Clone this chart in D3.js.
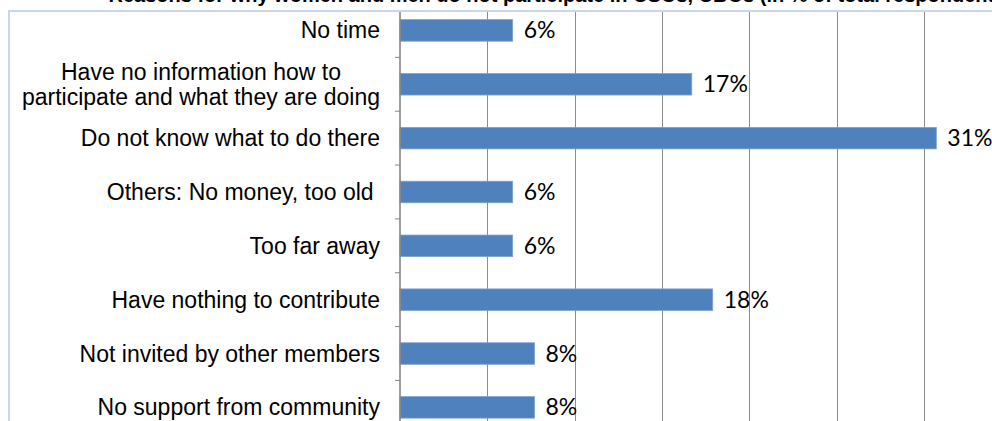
<!DOCTYPE html>
<html>
<head>
<meta charset="utf-8">
<script src="https://cdn.jsdelivr.net/npm/d3@7"></script>
<style>
  html, body { margin: 0; padding: 0; background: #fff; overflow: hidden; }
  svg { display: block; }
  text { white-space: pre; }
</style>
</head>
<body>
<svg id="chart" width="992" height="421"></svg>
<script>
// ---- data ----
const categories = [
  "No time",
  "Have no information how to|participate and what they are doing",
  "Do not know what to do there",
  "Others: No money, too old ",
  "Too far away",
  "Have nothing to contribute",
  "Not invited by other members",
  "No support from community"
];
const values = [6.45, 16.7, 30.7, 6.45, 6.45, 17.9, 7.7, 7.7];
const xTicks = [0, 5, 10, 15, 20, 25, 30, 35];
const title = "Reasons for why women and men do not participate in CSOs, CBOs (in % of total respondents)";

// ---- layout ----
const W = 992, H = 421;
const svg = d3.select("#chart");
const axisX = 400, xMaxPx = 400 + 35 * 17.47;
const x = d3.scaleLinear().domain([0, 35]).range([axisX, xMaxPx]);
const y = d3.scaleBand().domain(categories).range([3.5, 3.5 + 8 * 53.85])
  .paddingInner(0.6).paddingOuter(0.3);

// title (cropped at the top edge, as in the reference)
const t = svg.append("text")
  .attr("y", 1.5)
  .attr("font-family", "Liberation Sans, Arial, sans-serif")
  .attr("font-weight", "bold")
  .attr("font-size", 20)
  .attr("fill", "#000")
  .text(title);
const pIdx = title.indexOf("participate");
const off = t.node().getSubStringLength(0, pIdx);
t.attr("x", 503 - off);

// frame
svg.append("rect")
  .attr("x", 9).attr("y", 11)
  .attr("width", W + 20).attr("height", H + 20)
  .attr("fill", "#fff")
  .attr("stroke", "#c9d7ea").attr("stroke-width", 2);

svg.append("clipPath").attr("id", "clip")
  .append("rect").attr("x", 10).attr("y", 12).attr("width", W).attr("height", H);

const g = svg.append("g").attr("clip-path", "url(#clip)");

// gridlines
g.selectAll("line.grid").data(xTicks.filter(d => d > 0)).join("line")
  .attr("class", "grid")
  .attr("x1", d => Math.round(x(d)) + 0.5).attr("x2", d => Math.round(x(d)) + 0.5)
  .attr("y1", 0).attr("y2", H)
  .attr("stroke", "#8c8c8c").attr("stroke-width", 1);

// bars
g.selectAll("rect.bar").data(categories).join("rect")
  .attr("class", "bar")
  .attr("x", x(0))
  .attr("y", d => y(d))
  .attr("width", (d, i) => x(values[i]) - x(0))
  .attr("height", y.bandwidth())
  .attr("fill", "#4f81bd")
  .attr("stroke", "#7ea2d0").attr("stroke-width", 0.8);

// axis line + ticks
const step = y.step();
const boundaries = categories.map(c => y(c) - (step - y.bandwidth()) / 2);
boundaries.push(boundaries[boundaries.length - 1] + step);
g.append("line")
  .attr("x1", axisX).attr("x2", axisX).attr("y1", 0).attr("y2", H)
  .attr("stroke", "#868686").attr("stroke-width", 1.6);
g.selectAll("line.tick").data(boundaries).join("line")
  .attr("class", "tick")
  .attr("x1", axisX - 5).attr("x2", axisX)
  .attr("y1", d => d).attr("y2", d => d)
  .attr("stroke", "#868686").attr("stroke-width", 1);

// value labels
g.selectAll("text.val").data(categories).join("text")
  .attr("class", "val")
  .attr("x", (d, i) => x(values[i]) + 11)
  .attr("y", d => y(d) + y.bandwidth() / 2)
  .attr("dy", "0.35em")
  .attr("font-family", "Lato, sans-serif")
  .attr("font-size", 23)
  .attr("fill", "#000")
  .text((d, i) => Math.round(values[i]) + "%");

// category labels
const labelRight = 380;
categories.forEach(c => {
  const lines = c.split("|");
  const cy = y(c) + y.bandwidth() / 2;
  const txt = g.append("text")
    .attr("font-family", "Liberation Sans, Arial, sans-serif")
    .attr("font-size", 23)
    .attr("fill", "#000");
  if (lines.length === 1) {
    txt.attr("x", labelRight).attr("y", cy).attr("dy", "0.35em")
      .attr("text-anchor", "end").text(lines[0]);
  } else {
    const spans = lines.map((l, i) => txt.append("tspan").text(l));
    const widths = spans.map(s => s.node().getComputedTextLength());
    const maxW = Math.max(...widths);
    const cx = labelRight - maxW / 2;
    txt.attr("text-anchor", "middle");
    const lh = 25;
    spans.forEach((s, i) => {
      s.attr("x", cx).attr("y", cy + (i - (lines.length - 1) / 2) * lh).attr("dy", "0.35em");
    });
  }
});
</script>
</body>
</html>
